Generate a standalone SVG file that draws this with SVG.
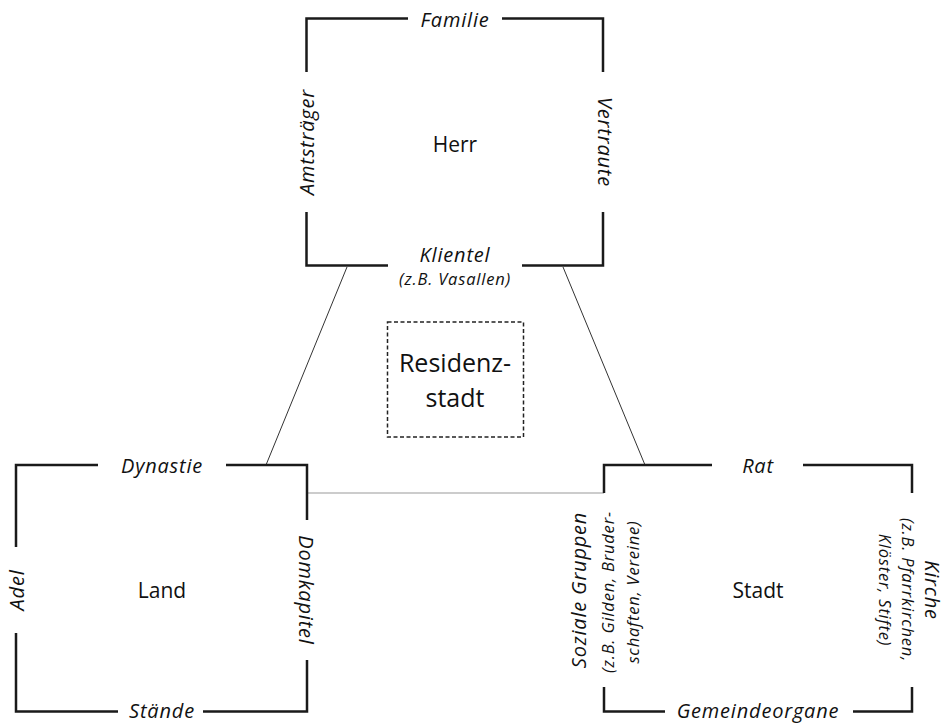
<svg xmlns="http://www.w3.org/2000/svg" width="945" height="724" viewBox="0 0 945 724">
<style>
.br{fill:none;stroke:#1a1a1a;stroke-width:2.5}
.it{font-family:"Open Sans","Noto Sans",sans-serif;font-style:italic;font-size:20px;letter-spacing:0.8px;fill:#111;text-anchor:middle}
.sm{font-size:16.5px;letter-spacing:0.8px}
.nm{font-family:"Open Sans","Noto Sans",sans-serif;font-size:21px;fill:#111;text-anchor:middle}
.con{stroke:#333;stroke-width:1;fill:none}
</style>
<rect width="945" height="724" fill="#fff"/>
<g id="connectors">
<line class="con" x1="347" y1="267" x2="266" y2="465"/>
<line class="con" x1="563" y1="267" x2="645" y2="465"/>
<line x1="307" y1="493" x2="604" y2="493" stroke="#999" stroke-width="1.2"/>
</g>
<g id="herr">
<path class="br" d="M408,18.5H306.5V72M502,18.5H603V72M306.5,212V265.5H388M522,265.5H603V212"/>
<text class="it" x="455" y="27">Familie</text>
<text class="it" transform="translate(314,142) rotate(-90)">Amtsträger</text>
<text class="it" transform="translate(598,142) rotate(90)">Vertraute</text>
<text class="it" x="455" y="262">Klientel</text>
<text class="it sm" x="455" y="285">(z.B. Vasallen)</text>
<text class="nm" x="455" y="151.5">Herr</text>
</g>
<g id="residenzstadt">
<rect x="387.5" y="322" width="136" height="115" fill="none" stroke="#222" stroke-width="1.5" stroke-dasharray="4,2.5"/>
<text class="nm" style="font-size:25px" x="455" y="372">Residenz-</text>
<text class="nm" style="font-size:25px" x="455" y="407">stadt</text>
</g>
<g id="land">
<path class="br" d="M98,465H16V547M226,465H307V520M16,633V711.5H118M203,711.5H307V660"/>
<text class="it" x="162" y="473">Dynastie</text>
<text class="it" transform="translate(24,590) rotate(-90)">Adel</text>
<text class="it" transform="translate(299,590) rotate(90)">Domkapitel</text>
<text class="it" x="162" y="718">Stände</text>
<text class="nm" x="162" y="598">Land</text>
</g>
<g id="stadt">
<path class="br" d="M712,465H604V493M803,465H912V493M604,687V711.5H665M853,711.5H912V687"/>
<text class="it" x="758" y="473">Rat</text>
<text class="it" transform="translate(586,590) rotate(-90)">Soziale Gruppen</text>
<text class="it sm" transform="translate(614,592) rotate(-90)">(z.B. Gilden, Bruder-</text>
<text class="it sm" transform="translate(639,592) rotate(-90)">schaften, Vereine)</text>
<text class="it" transform="translate(925,590) rotate(90)">Kirche</text>
<text class="it sm" transform="translate(902,590) rotate(90)">(z.B. Pfarrkirchen,</text>
<text class="it sm" transform="translate(879,590) rotate(90)">Klöster, Stifte)</text>
<text class="it" x="758" y="718">Gemeindeorgane</text>
<text class="nm" x="758" y="598">Stadt</text>
</g>
</svg>
